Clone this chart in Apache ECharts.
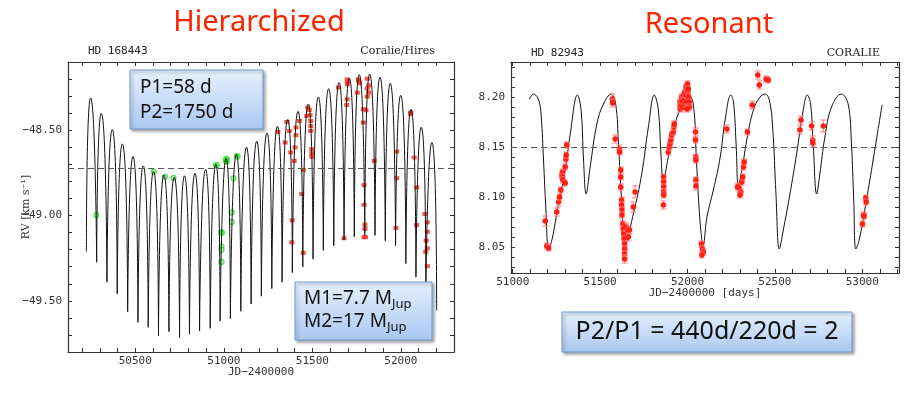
<!DOCTYPE html>
<html><head><meta charset="utf-8">
<script src="https://cdn.jsdelivr.net/npm/echarts@6/dist/echarts.min.js"></script>
<style>html,body{margin:0;padding:0;background:#fff}#c{width:912px;height:394px}</style>
</head><body><div id="c"></div>
<script>
// ---------- Left panel: HD 168443 (hierarchized) ----------
var leftStart = [50224, -49.211];
var leftMaxT = [50248,50308,50370,50427,50487,50545,50603,50662,50720,50778,50837,50897,50955,51013,51071,51128,51186,51244,51303,51361,51419,51477,51534,51592,51651,51709,51765,51824,51882,51940,51999,52057,52115,52175];
var leftMaxV = [-48.311,-48.402,-48.496,-48.580,-48.654,-48.709,-48.740,-48.763,-48.775,-48.767,-48.753,-48.730,-48.701,-48.666,-48.642,-48.599,-48.564,-48.516,-48.477,-48.437,-48.389,-48.346,-48.305,-48.256,-48.221,-48.194,-48.174,-48.171,-48.190,-48.225,-48.295,-48.377,-48.482,-48.572];
var leftMinT = [50282,50340,50398,50457,50515,50573,50631,50690,50750,50806,50863,50923,50979,51037,51096,51154,51212,51271,51329,51387,51446,51504,51562,51621,51679,51737,51796,51854,51912,51970,52028,52085,52141,52202];
var leftMinV = [-49.274,-49.391,-49.459,-49.564,-49.626,-49.655,-49.705,-49.681,-49.716,-49.695,-49.677,-49.661,-49.619,-49.604,-49.561,-49.518,-49.473,-49.428,-49.391,-49.335,-49.302,-49.256,-49.204,-49.177,-49.144,-49.125,-49.116,-49.116,-49.149,-49.177,-49.282,-49.361,-49.424,-49.556];
var leftMeanV = -48.716;
var leftGreenOpen = [[50280,-48.997],[50605,-48.744],[50668,-48.773],[50716,-48.779],[51054,-48.782],[51045,-48.981],[51045,-49.038],[50987,-49.180],[50987,-49.200],[50987,-49.272]];
var leftGreenFilled = [[50958,-48.705],[51015,-48.670],[51015,-48.682],[51075,-48.652],[50987,-49.100]];
var leftRed = [[51305,-48.510],[51346,-48.572],[51356,-48.451],[51370,-48.504],[51378,-48.630],[51386,-49.028],[51384,-49.157],[51397,-48.680],[51402,-48.601],[51408,-48.484],[51408,-48.529],[51427,-48.446],[51440,-48.874],[51449,-48.732],[51449,-49.219],[51474,-48.367],[51483,-48.381],[51468,-48.416],[51487,-48.412],[51491,-48.446],[51491,-48.475],[51491,-48.504],[51497,-48.611],[51497,-48.635],[51497,-48.656],[51647,-48.250],[51679,-49.133],[51697,-48.202],[51699,-48.218],[51697,-48.231],[51697,-48.319],[51694,-48.352],[51760,-48.202],[51762,-48.212],[51766,-48.225],[51754,-48.280],[51810,-48.198],[51818,-48.237],[51810,-48.256],[51818,-48.280],[51810,-48.303],[51788,-48.377],[51803,-48.383],[51788,-48.455],[51792,-48.822],[51792,-48.937],[51797,-49.054],[51797,-49.079],[51792,-49.127],[51800,-49.127],[51850,-48.680],[51976,-48.625],[51976,-48.781],[51972,-49.073],[52055,-48.396],[52055,-48.406],[52075,-48.660],[52089,-48.835],[52089,-49.056],[52136,-48.991],[52149,-49.040],[52149,-49.095],[52143,-49.147],[52140,-49.212],[52149,-49.192],[52149,-49.297]];
var leftXLabels = [50500,51000,51500,52000];
var leftXTicks = [50200,50300,50400,50500,50600,50700,50800,50900,51000,51100,51200,51300,51400,51500,51600,51700,51800,51900,52000,52100,52200];
var leftYLabels = [-49.5,-49.0,-48.5];
var leftYTicks = [-49.7,-49.6,-49.5,-49.4,-49.3,-49.2,-49.1,-49.0,-48.9,-48.8,-48.7,-48.6,-48.5,-48.4,-48.3,-48.2];

// ---------- Right panel: HD 82943 (resonant) ----------
var rightCurve = [[51095,8.198],[51119,8.203],[51148,8.197],[51163,8.180],[51176,8.137],[51190,8.087],[51205,8.048],[51224,8.057],[51262,8.093],[51300,8.127],[51329,8.163],[51370,8.202],[51391,8.187],[51405,8.137],[51420,8.103],[51443,8.130],[51481,8.173],[51519,8.193],[51563,8.203],[51589,8.193],[51605,8.153],[51623,8.097],[51643,8.052],[51690,8.083],[51738,8.123],[51776,8.170],[51810,8.202],[51833,8.187],[51848,8.143],[51861,8.117],[51890,8.140],[51928,8.173],[51976,8.195],[52004,8.202],[52033,8.193],[52051,8.137],[52071,8.077],[52090,8.052],[52111,8.080],[52148,8.107],[52187,8.140],[52215,8.177],[52248,8.202],[52263,8.195],[52278,8.153],[52291,8.112],[52311,8.127],[52339,8.157],[52377,8.187],[52415,8.200],[52444,8.203],[52468,8.197],[52487,8.170],[52506,8.103],[52525,8.048],[52548,8.067],[52586,8.103],[52624,8.143],[52662,8.187],[52685,8.202],[52704,8.193],[52719,8.153],[52739,8.103],[52757,8.123],[52786,8.160],[52824,8.190],[52881,8.203],[52919,8.193],[52938,8.153],[52951,8.097],[52963,8.048],[52982,8.057],[53024,8.097],[53062,8.137],[53113,8.192]];
// [JD, RV, error]
var rightObs = [[51186,8.076,0.005],[51195,8.051,0.003],[51205,8.049,0.003],[51252,8.085,0.004],[51262,8.095,0.004],[51268,8.100,0.003],[51275,8.107,0.003],[51281,8.122,0.003],[51285,8.125,0.003],[51284,8.120,0.003],[51287,8.117,0.003],[51300,8.114,0.003],[51300,8.130,0.003],[51304,8.138,0.003],[51306,8.142,0.003],[51309,8.152,0.003],
[51570,8.198,0.005],[51572,8.194,0.004],[51586,8.158,0.004],[51610,8.148,0.004],[51612,8.145,0.003],[51618,8.127,0.003],[51618,8.120,0.003],[51618,8.110,0.003],[51623,8.097,0.003],[51623,8.092,0.003],[51625,8.087,0.003],[51625,8.082,0.003],[51630,8.073,0.003],[51632,8.068,0.003],[51635,8.063,0.003],[51637,8.058,0.003],[51640,8.053,0.003],[51640,8.048,0.003],[51640,8.043,0.003],[51640,8.038,0.004],[51650,8.070,0.004],[51660,8.065,0.004],[51668,8.067,0.004],[51662,8.060,0.004],[51690,8.090,0.005],[51700,8.105,0.006],
[51863,8.120,0.003],[51863,8.115,0.003],[51864,8.110,0.003],[51863,8.105,0.003],[51864,8.102,0.003],[51862,8.092,0.004],[51890,8.145,0.003],[51896,8.150,0.003],[51900,8.153,0.003],[51905,8.157,0.003],[51909,8.162,0.003],[51918,8.165,0.003],[51922,8.170,0.003],[51924,8.173,0.003],
[51957,8.195,0.003],[51957,8.190,0.003],[51960,8.188,0.003],[51966,8.200,0.003],[51966,8.192,0.003],[51970,8.197,0.003],[51976,8.195,0.003],[51976,8.190,0.003],[51980,8.202,0.003],[51985,8.205,0.003],[51985,8.198,0.003],[51988,8.193,0.003],[51992,8.210,0.003],[51994,8.202,0.003],[51996,8.196,0.003],[52000,8.213,0.003],[52002,8.205,0.003],[52004,8.208,0.003],[52006,8.200,0.003],[52010,8.195,0.003],[52012,8.190,0.003],[51998,8.188,0.003],
[52046,8.165,0.004],[52046,8.157,0.003],[52047,8.140,0.003],[52048,8.137,0.003],[52048,8.117,0.003],[52048,8.111,0.004],[52080,8.053,0.003],[52085,8.048,0.003],[52091,8.045,0.003],[52082,8.042,0.003],
[52225,8.168,0.004],[52291,8.111,0.003],[52297,8.108,0.003],[52305,8.105,0.003],[52300,8.102,0.003],[52311,8.115,0.003],[52316,8.120,0.003],[52320,8.130,0.003],[52324,8.135,0.003],[52286,8.110,0.003],
[52343,8.165,0.003],[52370,8.192,0.004],[52402,8.222,0.004],[52411,8.212,0.004],[52449,8.218,0.003],[52462,8.217,0.003],
[52643,8.167,0.004],[52649,8.177,0.004],[52710,8.171,0.004],[52716,8.157,0.004],[52717,8.154,0.004],[52777,8.171,0.006],
[53001,8.073,0.003],[53007,8.082,0.003],[53010,8.081,0.003],[53020,8.099,0.003],[53022,8.095,0.003]];
var rightMeanV = 8.1457;
var rightXLabels = [51000,51500,52000,52500,53000];
var rightXTicks = [51000,51100,51200,51300,51400,51500,51600,51700,51800,51900,52000,52100,52200,52300,52400,52500,52600,52700,52800,52900,53000,53100,53200];
var rightYLabels = [8.05,8.10,8.15,8.20];
var rightYTicks = [8.03,8.04,8.05,8.06,8.07,8.08,8.09,8.10,8.11,8.12,8.13,8.14,8.15,8.16,8.17,8.18,8.19,8.20,8.21,8.22,8.23];

// Build the arch segments of the left model curve (one smoothed segment per orbit)
var leftCurve = [];
for (var i = 0; i < leftMaxT.length; i++) {
  if (i === 0) leftCurve.push(leftStart.slice());
  else leftCurve.push([leftMinT[i-1], leftMinV[i-1]]);
  leftCurve.push([leftMaxT[i], leftMaxV[i]]);
  leftCurve.push([leftMinT[i], leftMinV[i]]);
  if (i < leftMaxT.length - 1) leftCurve.push(null);
}

var chart = echarts.init(document.getElementById('c'), null, {renderer: 'canvas'});
var monoFont = 'DejaVu Sans Mono';
var frameColor = '#333';
function minus(v, d) { var s = Math.abs(v).toFixed(d); return (v < 0 ? '\u2212' : '') + s; }

function xAx(grid, min, max, ticks, labels, pos, name, gap) {
  return {
    type: 'value', gridIndex: grid, min: min, max: max, position: pos,
    axisLine: {show: true, onZero: false, lineStyle: {color: frameColor, width: 1.2}},
    axisTick: {show: true, inside: true, length: 4, customValues: ticks, lineStyle: {color: frameColor}},
    axisLabel: {show: !!labels, customValues: labels || [], margin: 4, color: '#333', fontFamily: monoFont, fontSize: 11,
      formatter: function (v) { return String(v); }},
    splitLine: {show: false},
    name: name || '', nameLocation: 'middle', nameGap: gap || 14, nameMoveOverlap: false,
    nameTextStyle: {fontFamily: monoFont, fontSize: 11, color: '#333'}
  };
}
function yAx(grid, min, max, ticks, labels, pos, fmt, name) {
  return {
    type: 'value', gridIndex: grid, min: min, max: max, position: pos,
    axisLine: {show: true, onZero: false, lineStyle: {color: frameColor, width: 1.2}},
    axisTick: {show: true, inside: true, length: 4, customValues: ticks, lineStyle: {color: frameColor}},
    axisLabel: {show: !!labels, customValues: labels || [], margin: 6, color: '#333', fontFamily: monoFont, fontSize: 11,
      formatter: fmt},
    splitLine: {show: false},
    name: name || '', nameLocation: 'middle', nameGap: 36, nameRotate: 90, nameMoveOverlap: false,
    nameTextStyle: {fontFamily: 'DejaVu Serif', fontSize: 11, color: '#333'}
  };
}

function errRender(params, api) {
  var x = api.value(0), y = api.value(1), e = api.value(2);
  var p = api.coord([x, y]);
  var hi = api.coord([x, y + e]);
  var lo = api.coord([x, y - e]);
  var ec = '#ff7a7a';
  return {type: 'group', children: [
    {type: 'line', shape: {x1: p[0], y1: hi[1], x2: p[0], y2: lo[1]}, style: {stroke: ec, lineWidth: 1}},
    {type: 'line', shape: {x1: p[0] - 3, y1: hi[1], x2: p[0] + 3, y2: hi[1]}, style: {stroke: ec, lineWidth: 1}},
    {type: 'line', shape: {x1: p[0] - 3, y1: lo[1], x2: p[0] + 3, y2: lo[1]}, style: {stroke: ec, lineWidth: 1}},
    {type: 'circle', shape: {cx: p[0], cy: p[1], r: 2.8}, style: {fill: '#ff1e12'}}
  ]};
}

function box(x, y, w, h) {
  return {type: 'rect', shape: {x: x, y: y, width: w, height: h}, z: 100,
    style: {fill: new echarts.graphic.LinearGradient(0, 0, 0, 1, [{offset: 0, color: '#e6f0fd'}, {offset: 1, color: '#aac8f2'}]),
      stroke: '#6b9bd6', lineWidth: 1, shadowBlur: 3, shadowOffsetX: 2, shadowOffsetY: 2, shadowColor: 'rgba(0,0,0,0.35)'}};
}
function txt(x, y, t, font, color, align, extra) {
  var o = {type: 'text', x: x, y: y, z: 101, style: {text: t, font: font, fill: color || '#111', align: align || 'left', verticalAlign: 'middle'}};
  if (extra) for (var k in extra) o.style[k] = extra[k];
  return o;
}
var boxFont = '19px "Noto Sans"';
var richM = {m: {fontSize: 19, fontFamily: 'Noto Sans', lineHeight: 24, fill: '#111'}, s: {fontSize: 13, fontFamily: 'Noto Sans', lineHeight: 12, verticalAlign: 'bottom', fill: '#111'}};

chart.setOption({
  animation: false,
  grid: [
    {left: 68, top: 62, width: 386, height: 290},
    {left: 511, top: 62, width: 388, height: 211}
  ],
  xAxis: [
    xAx(0, 50120, 52300, leftXTicks, leftXLabels, 'bottom', 'JD\u22122400000', 15),
    xAx(0, 50120, 52300, leftXTicks, null, 'top'),
    xAx(1, 50990, 53210, rightXTicks, rightXLabels, 'bottom', 'JD\u22122400000 [days]', 15),
    xAx(1, 50990, 53210, rightXTicks, null, 'top')
  ],
  yAxis: [
    yAx(0, -49.8, -48.1, leftYTicks, leftYLabels, 'left', function (v) { return minus(v, 2); }, 'RV [km s\u207B\u00B9]'),
    yAx(0, -49.8, -48.1, leftYTicks, null, 'right'),
    yAx(1, 8.024, 8.235, rightYTicks, rightYLabels, 'left', function (v) { return v.toFixed(2); }),
    yAx(1, 8.024, 8.235, rightYTicks, null, 'right')
  ],
  series: [
    {type: 'line', xAxisIndex: 0, yAxisIndex: 0, data: leftCurve, smooth: 0.9, showSymbol: false, connectNulls: false,
      lineStyle: {color: '#111', width: 1}, silent: true,
      markLine: {silent: true, symbol: 'none', label: {show: false}, lineStyle: {color: '#555', type: [6, 4], width: 1}, data: [{yAxis: leftMeanV}]}},
    {type: 'scatter', xAxisIndex: 0, yAxisIndex: 0, data: leftGreenOpen, symbol: 'circle', symbolSize: 5,
      itemStyle: {color: '#b8f5b8', borderColor: '#2fd62f', borderWidth: 1.2}},
    {type: 'scatter', xAxisIndex: 0, yAxisIndex: 0, data: leftGreenFilled, symbol: 'circle', symbolSize: 7,
      itemStyle: {color: '#22e022'}},
    {type: 'scatter', xAxisIndex: 0, yAxisIndex: 0, data: leftRed, symbol: 'rect', symbolSize: [5, 4],
      itemStyle: {color: '#ff2a1a'}},
    {type: 'line', xAxisIndex: 2, yAxisIndex: 2, data: rightCurve, smooth: 0.4, showSymbol: false,
      lineStyle: {color: '#111', width: 1}, silent: true,
      markLine: {silent: true, symbol: 'none', label: {show: false}, lineStyle: {color: '#555', type: [6, 4], width: 1}, data: [{yAxis: rightMeanV}]}},
    {type: 'custom', xAxisIndex: 2, yAxisIndex: 2, data: rightObs, renderItem: errRender, encode: {x: 0, y: 1}, z: 5}
  ],
  graphic: [
    txt(259, 23, 'Hierarchized', '29px "Noto Sans"', '#ff2200', 'center'),
    txt(709, 25, 'Resonant', '29px "Noto Sans"', '#ff2200', 'center'),
    txt(88, 51, 'HD 168443', '11px "DejaVu Sans Mono"', '#222', 'left'),
    txt(435, 51, 'Coralie/Hires', '11px "DejaVu Serif"', '#222', 'right'),
    txt(531, 53, 'HD 82943', '11px "DejaVu Sans Mono"', '#222', 'left'),
    txt(880, 53, 'CORALIE', '11px "DejaVu Serif"', '#222', 'right'),
    box(130, 70, 133, 59),
    txt(140, 88, 'P1=58 d', boxFont),
    txt(140, 113, 'P2=1750 d', boxFont),
    box(295, 282, 137, 58),
    txt(304, 299, '{m|M1=7.7 M}{s|Jup}', null, null, 'left', {rich: richM}),
    txt(304, 322, '{m|M2=17 M}{s|Jup}', null, null, 'left', {rich: richM}),
    box(562, 312, 290, 40),
    txt(707, 332, 'P2/P1 = 440d/220d = 2', '25px "Noto Sans"', '#111', 'center')
  ]
});
</script></body></html>
